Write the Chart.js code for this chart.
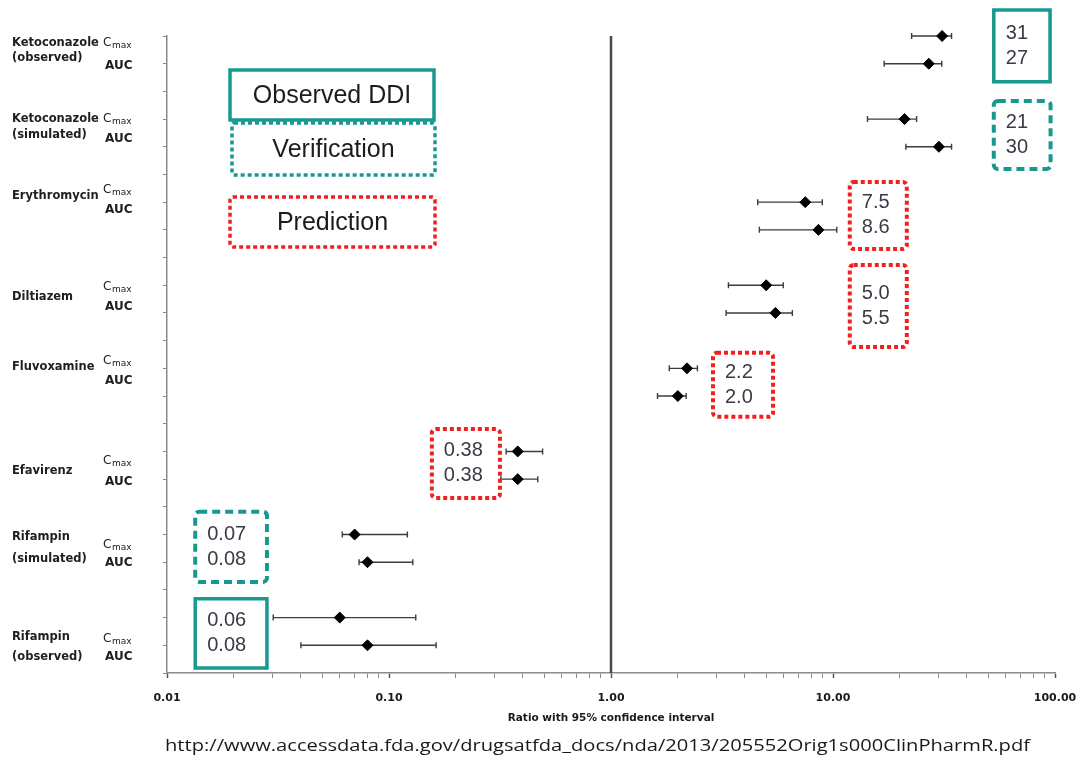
<!DOCTYPE html>
<html>
<head>
<meta charset="utf-8">
<script src="https://cdn.jsdelivr.net/npm/chart.js@4.4.1/dist/chart.umd.min.js"></script>
<style>
  html, body { margin: 0; padding: 0; background: #ffffff; }
  canvas { display: block; }
</style>
</head>
<body>
<canvas id="ddi" width="1079" height="759"></canvas>
<script>
// ---- Data -------------------------------------------------------------
const groupNames = [
  ['Ketoconazole', '(observed)'],
  ['Ketoconazole', '(simulated)'],
  ['Erythromycin'],
  ['Diltiazem'],
  ['Fluvoxamine'],
  ['Efavirenz'],
  ['Rifampin', '(simulated)'],
  ['Rifampin', '(observed)']
];
const groupKind = ['observed', 'verification', 'prediction', 'prediction',
                   'prediction', 'prediction', 'verification', 'observed'];

const cmaxRatio = [31, 21, 7.5, 5.0, 2.2, 0.38, 0.07, 0.06];
const cmaxLow   = [22.6, 14.3, 4.58, 3.38, 1.83, 0.337, 0.0616, 0.0301];
const cmaxHigh  = [34.2, 23.8, 8.95, 5.97, 2.45, 0.492, 0.121, 0.132];

const aucRatio  = [27, 30, 8.6, 5.5, 2.0, 0.38, 0.08, 0.08];
const aucLow    = [17.0, 21.3, 4.66, 3.30, 1.62, 0.319, 0.0733, 0.0401];
const aucHigh   = [30.9, 34.2, 10.4, 6.56, 2.18, 0.468, 0.128, 0.163];

const xTickValues = [0.01, 0.1, 1, 10, 100];
const xTickLabels = ['0.01', '0.10', '1.00', '10.00', '100.00'];
const referenceRatio = 1;

const legendLabels = ['Observed DDI', 'Verification', 'Prediction'];
const legendKinds  = ['observed', 'verification', 'prediction'];
const axisTitle = 'Ratio with 95% confidence interval';
const sourceNote = 'http://www.accessdata.fda.gov/drugsatfda_docs/nda/2013/205552Orig1s000ClinPharmR.pdf';

// ---- Layout -----------------------------------------------------------
const ROWS_PER_GROUP = 3;            // Cmax row, AUC row, spacer
const rowOf = (g, isAuc) => g * ROWS_PER_GROUP + (isAuc ? 1 : 0);

// value boxes: x range in ratio units, y range in row units (relative to group's Cmax row)
const valueBoxLayout = [
  { x0: 53,    x1: 95,    y0: -0.94, y1: 1.65 },
  { x0: 53,    x1: 95.5,  y0: -0.65, y1: 1.80 },
  { x0: 11.9,  x1: 21.5,  y0: -0.73, y1: 1.69 },
  { x0: 11.9,  x1: 21.5,  y0: -0.73, y1: 2.23 },
  { x0: 2.88,  x1: 5.37,  y0: -0.56, y1: 1.75 },
  { x0: 0.156, x1: 0.316, y0: -0.81, y1: 1.68 },
  { x0: 0.0134,x1: 0.0282,y0: -0.82, y1: 1.71 },
  { x0: 0.0134,x1: 0.0282,y0: -0.68, y1: 1.82 }
];
// left labels: vertical offsets in row units relative to group's Cmax row
const labelLayout = [
  { names: [0.25, 0.79], cmax: 0.25,  auc: 1.08 },
  { names: [0.00, 0.57], cmax: 0.00,  auc: 0.72 },
  { names: [-0.22],      cmax: -0.44, auc: 0.28 },
  { names: [0.42],       cmax: 0.06,  auc: 0.78 },
  { names: [-0.05],      cmax: -0.27, auc: 0.45 },
  { names: [0.70],       cmax: 0.34,  auc: 1.10 },
  { names: [0.09, 0.88], cmax: 0.38,  auc: 1.03 },
  { names: [0.70, 1.42], cmax: 0.77,  auc: 1.42 }
];
const legendBoxes = [
  { x: 230, y: 70,  w: 204, h: 50 },
  { x: 232, y: 123, w: 203, h: 52 },
  { x: 230, y: 197, w: 205, h: 50 }
];

const TEAL = '#17998f';
const RED = '#ef2220';
const boxStyle = {
  observed:     { color: TEAL, dash: [],     width: 3.5, radius: 0 },
  verification: { color: TEAL, dash: [8, 5], width: 4,   radius: 4 },
  prediction:   { color: RED,  dash: [4, 3], width: 4,   radius: 4 }
};
const legendStyle = {
  observed:     { color: TEAL, dash: [],     width: 3.5, radius: 0 },
  verification: { color: TEAL, dash: [4, 3], width: 3.5, radius: 2 },
  prediction:   { color: RED,  dash: [4, 3], width: 3.5, radius: 3 }
};

function fmtRatio(v) {
  if (v >= 10) return String(Math.round(v));
  if (v >= 1) return v.toFixed(1);
  return v.toFixed(2);
}

// ---- Plugins ----------------------------------------------------------
const referenceLine = {
  id: 'referenceLine',
  beforeDatasetsDraw(chart) {
    const { ctx, chartArea, scales } = chart;
    const x = scales.x.getPixelForValue(referenceRatio);
    ctx.save();
    ctx.strokeStyle = '#4a4a4a';
    ctx.lineWidth = 2.5;
    ctx.beginPath();
    ctx.moveTo(x, chartArea.top);
    ctx.lineTo(x, chartArea.bottom);
    ctx.stroke();
    ctx.restore();
  }
};

const errorBars = {
  id: 'errorBars',
  beforeDatasetsDraw(chart) {
    const { ctx, scales } = chart;
    ctx.save();
    ctx.strokeStyle = '#3c3c3c';
    ctx.lineWidth = 1.4;
    chart.data.datasets.forEach(ds => {
      ds.data.forEach((pt, i) => {
        const xl = scales.x.getPixelForValue(ds.low[i]);
        const xh = scales.x.getPixelForValue(ds.high[i]);
        const y = scales.y.getPixelForValue(pt.y);
        ctx.beginPath();
        ctx.moveTo(xl, y); ctx.lineTo(xh, y);
        ctx.moveTo(xl, y - 3); ctx.lineTo(xl, y + 3);
        ctx.moveTo(xh, y - 3); ctx.lineTo(xh, y + 3);
        ctx.stroke();
      });
    });
    ctx.restore();
  }
};

function strokeBox(ctx, x, y, w, h, st) {
  ctx.save();
  ctx.strokeStyle = st.color;
  ctx.lineWidth = st.width;
  ctx.setLineDash(st.dash);
  ctx.lineCap = 'butt';
  ctx.beginPath();
  if (st.radius && ctx.roundRect) ctx.roundRect(x, y, w, h, st.radius);
  else ctx.rect(x, y, w, h);
  ctx.stroke();
  ctx.restore();
}

const annotations = {
  id: 'annotations',
  afterDraw(chart) {
    const { ctx, scales, chartArea } = chart;
    const xs = scales.x, ys = scales.y;

    // value boxes with the ratios
    valueBoxLayout.forEach((b, g) => {
      const r = rowOf(g, false);
      const x0 = xs.getPixelForValue(b.x0), x1 = xs.getPixelForValue(b.x1);
      const y0 = ys.getPixelForValue(r + b.y0), y1 = ys.getPixelForValue(r + b.y1);
      strokeBox(ctx, x0, y0, x1 - x0, y1 - y0, boxStyle[groupKind[g]]);
      const cy = (y0 + y1) / 2;
      ctx.save();
      ctx.fillStyle = '#3a3a46';
      ctx.font = '20px "Liberation Sans", Arial, sans-serif';
      ctx.textBaseline = 'middle';
      ctx.textAlign = 'left';
      ctx.fillText(fmtRatio(cmaxRatio[g]), x0 + 12, cy - 12.5);
      ctx.fillText(fmtRatio(aucRatio[g]), x0 + 12, cy + 12.5);
      ctx.restore();
    });

    // legend
    legendBoxes.forEach((b, i) => {
      strokeBox(ctx, b.x, b.y, b.w, b.h, legendStyle[legendKinds[i]]);
      ctx.save();
      ctx.fillStyle = '#1c1c1c';
      ctx.font = '25px "Liberation Sans", Arial, sans-serif';
      ctx.textAlign = 'center';
      ctx.textBaseline = 'middle';
      ctx.fillText(legendLabels[i], b.x + b.w / 2, b.y + b.h / 2 + 1);
      ctx.restore();
    });

    // group labels on the left
    ctx.save();
    ctx.fillStyle = '#202020';
    ctx.textBaseline = 'middle';
    ctx.textAlign = 'left';
    labelLayout.forEach((L, g) => {
      const r = rowOf(g, false);
      ctx.font = 'bold 11.5px "DejaVu Sans", sans-serif';
      groupNames[g].forEach((line, k) => {
        ctx.fillText(line, 12, ys.getPixelForValue(r + L.names[k]));
      });
      const yc = ys.getPixelForValue(r + L.cmax);
      ctx.font = '12px "DejaVu Sans", sans-serif';
      ctx.fillText('C', 103, yc);
      const cw = ctx.measureText('C').width;
      ctx.font = '9px "DejaVu Sans", sans-serif';
      ctx.fillText('max', 103 + cw + 0.5, yc + 3);
      ctx.font = 'bold 12px "DejaVu Sans", sans-serif';
      ctx.fillText('AUC', 105, ys.getPixelForValue(r + L.auc));
    });
    ctx.restore();

    // axis title and source line
    ctx.save();
    ctx.fillStyle = '#1a1a1a';
    ctx.font = 'bold 10.5px "DejaVu Sans", sans-serif';
    ctx.textAlign = 'center';
    ctx.textBaseline = 'middle';
    ctx.fillText(axisTitle, (chartArea.left + chartArea.right) / 2, 718);
    ctx.font = '17px "Open Sans", sans-serif';
    ctx.textAlign = 'left';
    const w = ctx.measureText(sourceNote).width;
    const target = 865;
    ctx.translate(165, 746);
    ctx.scale(target / w, 1);
    ctx.fillText(sourceNote, 0, 0);
    ctx.restore();
  }
};

// ---- Chart ------------------------------------------------------------
const isMajor = v => xTickValues.some(t => Math.abs(Math.log10(v) - Math.log10(t)) < 1e-6);
const maxRow = rowOf(groupNames.length - 1, true) + 1;

new Chart(document.getElementById('ddi'), {
  type: 'scatter',
  data: {
    datasets: [
      {
        label: 'Cmax',
        data: cmaxRatio.map((v, g) => ({ x: v, y: rowOf(g, false) })),
        low: cmaxLow, high: cmaxHigh,
        clip: false
      },
      {
        label: 'AUC',
        data: aucRatio.map((v, g) => ({ x: v, y: rowOf(g, true) })),
        low: aucLow, high: aucHigh,
        clip: false
      }
    ]
  },
  options: {
    responsive: false,
    animation: false,
    devicePixelRatio: 1,
    layout: { padding: { left: 147, right: 24, top: 36, bottom: 0 } },
    elements: {
      point: { pointStyle: 'rectRot', radius: 5.5, backgroundColor: '#000', borderColor: '#000', borderWidth: 1 }
    },
    plugins: { legend: { display: false }, tooltip: { enabled: false } },
    scales: {
      x: {
        type: 'logarithmic',
        min: xTickValues[0],
        max: xTickValues[xTickValues.length - 1],
        afterFit(s) { s.height = 86; s.paddingLeft = 0; s.paddingRight = 0; },
        afterBuildTicks(s) {
          const t = [];
          for (let d = 0; d < xTickValues.length - 1; d++) {
            for (let k = 1; k <= 9; k++) t.push({ value: xTickValues[d] * k, major: k === 1 });
          }
          t.push({ value: xTickValues[xTickValues.length - 1], major: true });
          s.ticks = t;
        },
        ticks: {
          autoSkip: false,
          maxRotation: 0,
          padding: 14,
          color: '#1a1a1a',
          font: { family: '"DejaVu Sans", sans-serif', size: 11, weight: 'bold' },
          callback(v) {
            const i = xTickValues.findIndex(t => Math.abs(Math.log10(v) - Math.log10(t)) < 1e-6);
            return i >= 0 ? xTickLabels[i] : '';
          }
        },
        grid: {
          drawOnChartArea: false,
          tickLength: 5,
          tickColor: ctx => (ctx.tick && isMajor(ctx.tick.value)) ? '#555' : '#888',
          tickWidth: ctx => (ctx.tick && isMajor(ctx.tick.value)) ? 1.5 : 1
        },
        border: { color: '#8a8a8a', width: 1.5 }
      },
      y: {
        type: 'linear',
        reverse: true,
        min: 0,
        max: maxRow,
        afterFit(s) { s.width = 20; s.paddingTop = 0; s.paddingBottom = 0; },
        ticks: { stepSize: 1, callback: () => '', padding: 0 },
        grid: { drawOnChartArea: false, tickLength: 4, tickColor: '#888' },
        border: { color: '#8a8a8a', width: 1.5 }
      }
    }
  },
  plugins: [referenceLine, errorBars, annotations]
});
</script>
</body>
</html>
